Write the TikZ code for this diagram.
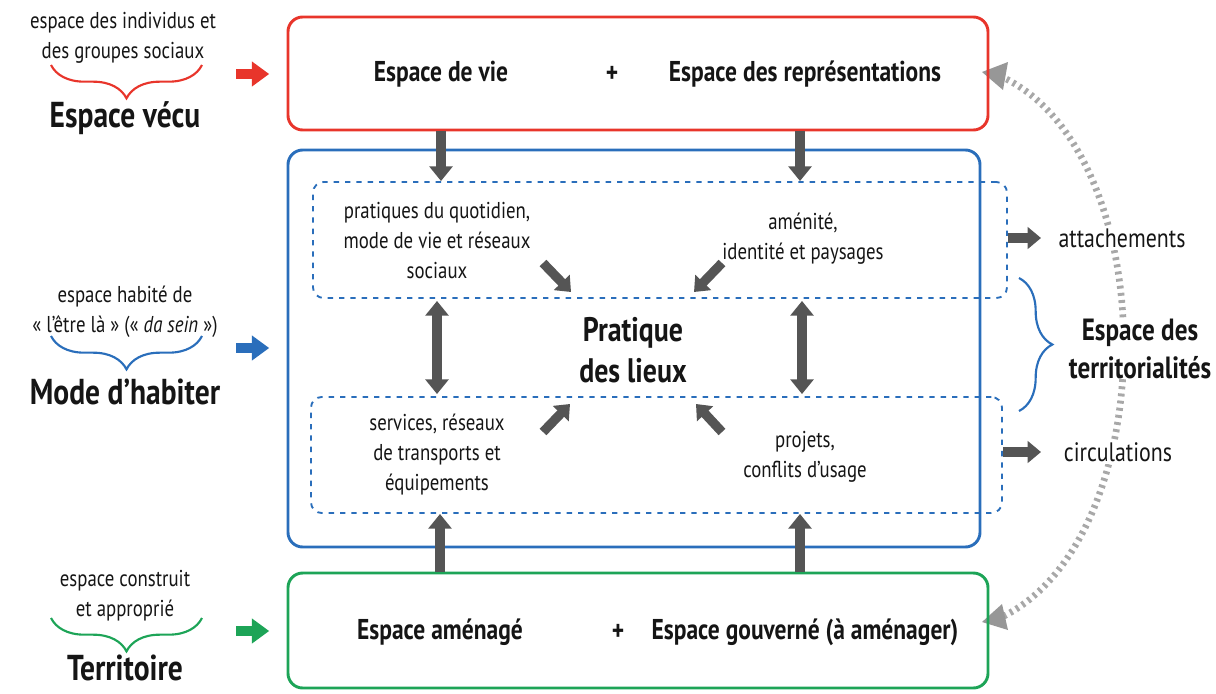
\documentclass[tikz,border=0pt]{standalone}
\usepackage{fontspec}
\setmainfont[FakeStretch=0.82]{PT Sans}
\usetikzlibrary{arrows.meta,decorations.pathreplacing}
\definecolor{cred}{HTML}{E8352B}
\definecolor{cblue}{HTML}{2A6EBB}
\definecolor{cgreen}{HTML}{1DA457}
\definecolor{cgray}{HTML}{555555}
\definecolor{cdot}{HTML}{A8A8A8}
\definecolor{ctext}{HTML}{151515}
\begin{document}
\begin{tikzpicture}[x=0.75pt,y=-0.75pt,
  bigbox/.style={draw, line width=2.2pt, rounded corners=11pt, inner sep=0pt},
  dashbox/.style={draw=cblue, line width=1.4pt, dash pattern=on 4pt off 4.5pt, rounded corners=8pt, inner sep=0pt},
  txt/.style={text=ctext, align=center, inner sep=1pt, font=\fontsize{17.2}{22.5}\selectfont},
  rtxt/.style={text=ctext, align=center, inner sep=1pt, font=\fontsize{20}{24}\selectfont},
  lab/.style={text=ctext, inner sep=1pt, font=\bfseries\fontsize{21.5}{26}\selectfont},
  biglab/.style={text=ctext, align=center, inner sep=1pt, font=\bfseries\fontsize{27}{32}\selectfont},
  garrow/.style={draw=cgray, line width=7pt, -{Triangle[length=11pt,width=17pt]}},
  gdouble/.style={draw=cgray, line width=7pt, {Triangle[length=11pt,width=17pt]}-{Triangle[length=11pt,width=17pt]}},
  diag/.style={draw=cgray, line width=7pt, -{Triangle[length=10pt,width=16pt]}},
  carrow/.style={line width=7pt, -{Triangle[length=13pt,width=18pt]}},
  brace/.style={decorate, decoration={brace, amplitude=25pt}, line width=1.6pt},
  dotarc/.style={draw=cdot, line width=5pt, dash pattern=on 2.2pt off 3.2pt},
]
\useasboundingbox (0,0) rectangle (1216,693);

% dotted arc (behind)
\coordinate (arcA) at (1000,76);
\coordinate (arcB) at (1000,618);
\draw[dotarc] (arcA) .. controls (1165,150) and (1165,540) .. (arcB);
\fill[cdot!90!black] (982,72) -- (1008,62) -- (1003,90) -- cycle;
\fill[cdot!90!black] (982,622) -- (1002,604) -- (1008,630) -- cycle;

% main boxes
\node[bigbox, draw=cred, minimum width=525pt, minimum height=84.75pt] (red) at (638,73.5) {};
\node[bigbox, draw=cblue, minimum width=519pt, minimum height=297.75pt] (blue) at (634,348.5) {};
\node[bigbox, draw=cgreen, minimum width=525pt, minimum height=86.25pt] (green) at (638,630.5) {};
\node[dashbox, minimum width=520.5pt, minimum height=87pt] (up) at (660,240) {};
\node[dashbox, minimum width=518.25pt, minimum height=87pt] (low) at (656.5,455) {};

% box labels
\node[lab] (vie) at (441,74) {Espace de vie};
\node[lab] (plus1) at (612,74) {+};
\node[lab] (repr) at (805,74) {Espace des représentations};
\node[lab] (amen) at (440,632) {Espace aménagé};
\node[lab] (plus2) at (618,632) {+};
\node[lab] (gouv) at (805,632) {Espace gouverné (à aménager)};

% inner texts
\node[txt] (quot) at (437,241) {pratiques du quotidien,\\mode de vie et réseaux\\sociaux};
\node[txt] (amenite) at (803,239) {aménité,\\identité et paysages};
\node[txt] (serv) at (437,455) {services, réseaux\\de transports et\\équipements};
\node[txt] (proj) at (805,457) {projets,\\conflits d’usage};
\node[biglab, font=\bfseries\fontsize{25.5}{31}\selectfont] (pl) at (633,350) {Pratique\\des lieux};

% vertical arrows
\coordinate (xl) at (441,0);
\coordinate (xr) at (800,0);
\draw[garrow] (xl |- red.south) -- (xl |- up.north);
\draw[garrow] (xr |- red.south) -- (xr |- up.north);
\coordinate (xl2) at (437,0);
\coordinate (xr2) at (802,0);
\draw[gdouble] ([yshift=-1.5pt]xl2 |- up.south) -- ([yshift=1.5pt]xl2 |- low.north);
\draw[gdouble] ([yshift=-1.5pt]xr2 |- up.south) -- ([yshift=1.5pt]xr2 |- low.north);
\coordinate (xl3) at (440,0);
\draw[garrow] (xl3 |- green.north) -- (xl3 |- low.south);
\draw[garrow] (xr |- green.north) -- (xr |- low.south);

% diagonal arrows toward center
\coordinate (d1a) at (543,263); \coordinate (d1b) at (571,292);
\coordinate (d2a) at (722,263); \coordinate (d2b) at (694,292);
\coordinate (d3a) at (543,432); \coordinate (d3b) at (570,404);
\coordinate (d4a) at (722,432); \coordinate (d4b) at (696,404);
\draw[diag] (d1a) -- (d1b);
\draw[diag] (d2a) -- (d2b);
\draw[diag] (d3a) -- (d3b);
\draw[diag] (d4a) -- (d4b);

% right side
\node[rtxt, fill=white, inner sep=2pt] (att) at (1122,238) {attachements};
\node[rtxt, fill=white, inner sep=2pt] (circ) at (1118,452) {circulations};
\coordinate (att1) at (1041,238);
\coordinate (circ1) at (1041,452);
\draw[garrow, -{Triangle[length=10pt,width=16pt]}] (up.east |- att1) -- (att1);
\draw[garrow, -{Triangle[length=10pt,width=16pt]}] (low.east |- circ1) -- (circ1);
\coordinate (brT) at (1019,278);
\coordinate (brB) at (1019,411);
\draw[brace, draw=cblue] (brT) -- (brB);
\node[biglab, fill=white, inner sep=0pt, font=\bfseries\fontsize{23}{29}\selectfont] (terr) at (1140,349) {Espace des\\territorialités};

% left side
\node[txt] (ind) at (123,38) {espace des individus et\\des groupes sociaux};
\coordinate (b1r) at (202,65); \coordinate (b1l) at (51,65);
\draw[brace, draw=cred] (b1r) -- (b1l);
\node[biglab] (vecu) at (125,118) {Espace vécu};
\node[txt] (hab) at (125,312) {espace habité de\\« l’être là » (« \textit{da sein} »)};
\coordinate (b2r) at (202,336); \coordinate (b2l) at (51,336);
\draw[brace, draw=cblue] (b2r) -- (b2l);
\node[biglab] (mode) at (125,392) {Mode d’habiter};
\node[txt] (constr) at (125,596) {espace construit\\et approprié};
\coordinate (b3r) at (202,618); \coordinate (b3l) at (51,618);
\draw[brace, draw=cgreen] (b3r) -- (b3l);
\node[biglab] (terri) at (125,668) {Territoire};

\coordinate (la1) at (236,74);
\coordinate (la2) at (236,348);
\coordinate (la3) at (236,631);
\draw[carrow, draw=cred] (la1) -- ([xshift=-13pt]red.west |- la1);
\draw[carrow, draw=cblue] (la2) -- ([xshift=-13pt]blue.west |- la2);
\draw[carrow, draw=cgreen] (la3) -- ([xshift=-13pt]green.west |- la3);
\end{tikzpicture}
\end{document}
